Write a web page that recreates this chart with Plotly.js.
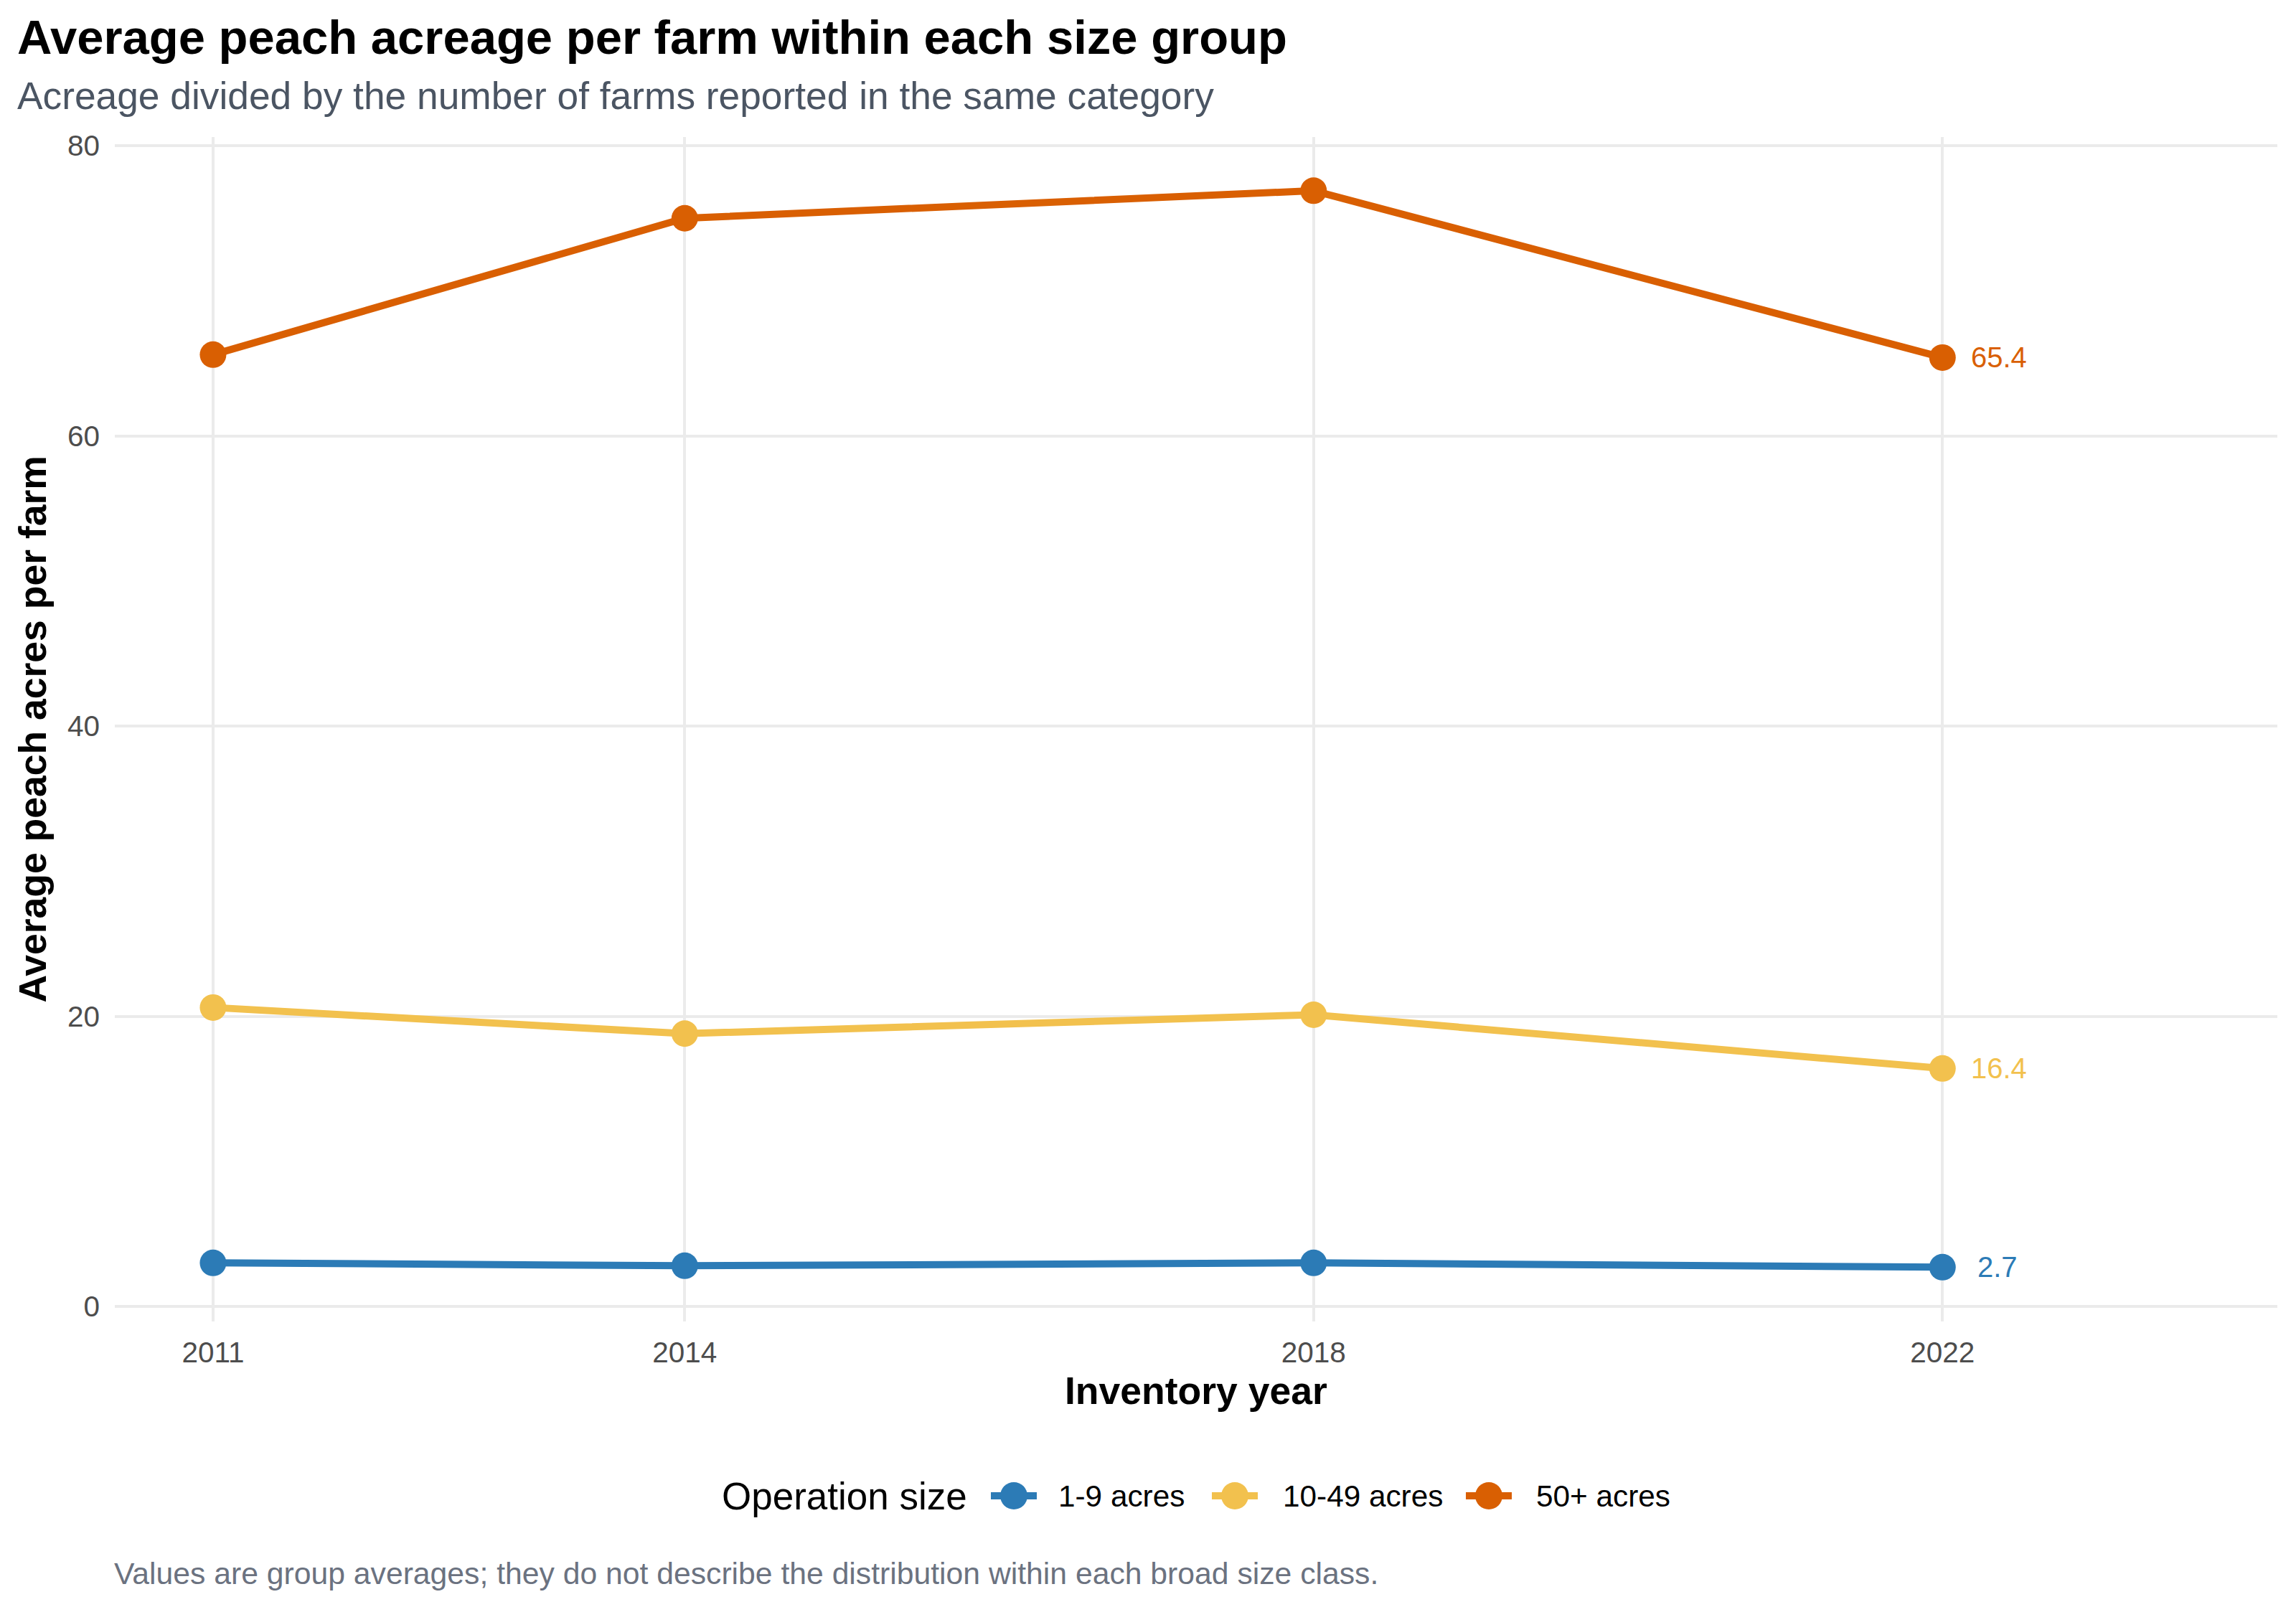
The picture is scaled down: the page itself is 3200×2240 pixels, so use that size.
<!DOCTYPE html>
<html>
<head>
<meta charset="utf-8">
<script src="https://cdn.plot.ly/plotly-3.0.1.min.js"></script>
<style>
  html, body { margin: 0; padding: 0; background: #ffffff; }
  #grafico { width: 3200px; height: 2240px; }
</style>
</head>
<body>
<div id="grafico"></div>
<script>
var years = [2011, 2014, 2018, 2022];
var groupNames = ['1-9 acres', '10-49 acres', '50+ acres'];
var small = [3.0, 2.8, 3.0, 2.7];
var medium = [20.6, 18.8, 20.1, 16.4];
var large = [65.6, 75.0, 76.9, 65.4];
var colors = ['#2C7BB6', '#F2C14E', '#D95F02'];

var font = 'Liberation Sans, Arial, sans-serif';
var series = [small, medium, large];

// plot box in pixels, used to place text outside the panel
var plotL = 160, plotR = 3174, plotT = 191, plotB = 1842;
function px(x) { return (x - plotL) / (plotR - plotL); }
function py(y) { return (plotB - y) / (plotB - plotT); }

// end label nudges and legend key positions (pixels)
var labelShift = [47, 38, 38];
var keyX = [1413, 1721, 2075];
var keyTextX = [1473, 1786, 2139];
var legendY = 2085;

var data = [];
var notes = [];
var shapes = [];
for (var i = 0; i < series.length; i++) {
  data.push({
    x: years,
    y: series[i],
    name: groupNames[i],
    type: 'scatter',
    mode: 'lines+markers',
    line: { color: colors[i], width: 10 },
    marker: { color: colors[i], size: 37 }
  });
  var last = series[i].length - 1;
  notes.push({
    x: years[last],
    y: series[i][last],
    xref: 'x',
    yref: 'y',
    text: series[i][last].toFixed(1),
    showarrow: false,
    xanchor: 'left',
    yanchor: 'middle',
    xshift: labelShift[i],
    font: { family: font, size: 40, color: colors[i] }
  });

  // legend key
  shapes.push({
    type: 'line', xref: 'paper', yref: 'paper',
    xsizemode: 'pixel', ysizemode: 'pixel',
    xanchor: px(keyX[i]), yanchor: py(legendY),
    x0: -32, x1: 32, y0: 0, y1: 0,
    line: { color: colors[i], width: 10 }
  });
  shapes.push({
    type: 'circle', xref: 'paper', yref: 'paper',
    xsizemode: 'pixel', ysizemode: 'pixel',
    xanchor: px(keyX[i]), yanchor: py(legendY),
    x0: -19, x1: 19, y0: -19, y1: 19,
    fillcolor: colors[i],
    line: { width: 0 }
  });
  notes.push({
    xref: 'paper', yref: 'paper', x: px(keyTextX[i]), y: py(legendY),
    xanchor: 'left', yanchor: 'middle', showarrow: false,
    text: groupNames[i],
    font: { family: font, size: 42.3, color: '#000000' }
  });
}

notes.push({
  xref: 'paper', yref: 'paper', x: px(1004), y: py(legendY),
  xanchor: 'left', yanchor: 'middle', showarrow: false,
  text: 'Operation size',
  font: { family: font, size: 53, color: '#000000' }
});

// titles and caption
notes.push({
  xref: 'paper', yref: 'paper', x: px(22), y: py(51),
  xanchor: 'left', yanchor: 'middle', showarrow: false,
  text: '<b>Average peach acreage per farm within each size group</b>',
  font: { family: font, size: 67, color: '#000000' }
});
notes.push({
  xref: 'paper', yref: 'paper', x: px(22), y: py(134),
  xanchor: 'left', yanchor: 'middle', showarrow: false,
  text: 'Acreage divided by the number of farms reported in the same category',
  font: { family: font, size: 53.3, color: '#4B5563' }
});
notes.push({
  xref: 'paper', yref: 'paper', x: px(45), y: 0.5,
  xanchor: 'center', yanchor: 'middle', showarrow: false, textangle: -90,
  text: '<b>Average peach acres per farm</b>',
  font: { family: font, size: 53.5, color: '#000000' }
});
notes.push({
  xref: 'paper', yref: 'paper', x: 0.5, y: py(1938),
  xanchor: 'center', yanchor: 'middle', showarrow: false,
  text: '<b>Inventory year</b>',
  font: { family: font, size: 53.5, color: '#000000' }
});
notes.push({
  xref: 'paper', yref: 'paper', x: px(157), y: py(2193),
  xanchor: 'left', yanchor: 'middle', showarrow: false,
  text: 'Values are group averages; they do not describe the distribution within each broad size class.',
  font: { family: font, size: 42.7, color: '#6B7280' }
});

var layout = {
  width: 3200,
  height: 2240,
  margin: { l: plotL, r: 3200 - plotR, t: plotT, b: 2240 - plotB },
  paper_bgcolor: '#ffffff',
  plot_bgcolor: '#ffffff',
  font: { family: font, color: '#4D4D4D' },
  showlegend: false,
  xaxis: {
    range: [2010.375, 2024.13],
    tickvals: years,
    ticktext: years.map(String),
    showgrid: true,
    gridcolor: '#EBEBEB',
    gridwidth: 4,
    zeroline: false,
    showline: false,
    ticks: '',
    ticklabelstandoff: 15,
    tickfont: { family: font, size: 40.5, color: '#4D4D4D' }
  },
  yaxis: {
    range: [-1.04, 80.6],
    tickvals: [0, 20, 40, 60, 80],
    showgrid: true,
    gridcolor: '#EBEBEB',
    gridwidth: 4,
    zeroline: false,
    showline: false,
    ticks: '',
    ticklabelstandoff: 20,
    tickfont: { family: font, size: 40.5, color: '#4D4D4D' }
  },
  shapes: shapes,
  annotations: notes
};

Plotly.newPlot('grafico', data, layout, { displayModeBar: false, staticPlot: true });
</script>
</body>
</html>
